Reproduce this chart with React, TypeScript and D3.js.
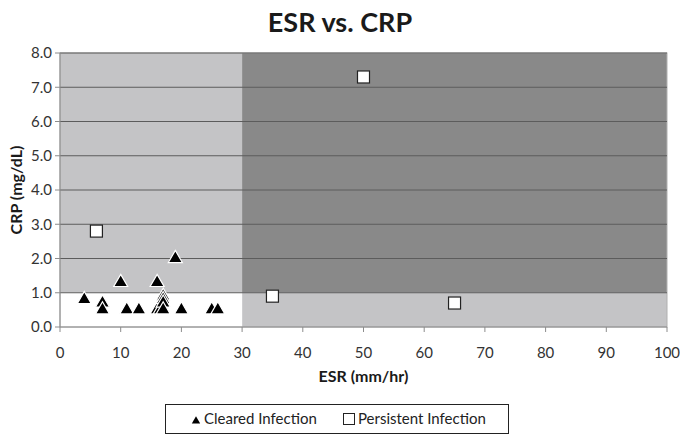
import React from "react";
import * as d3 from "d3";

const clearedESR = [4, 7, 7, 10, 11, 13, 16, 16, 16.5, 17, 17, 17, 17, 19, 20, 25, 26];
const clearedCRP = [0.8, 0.7, 0.5, 1.3, 0.5, 0.5, 1.3, 0.5, 0.5, 0.9, 0.8, 0.7, 0.5, 2.0, 0.5, 0.5, 0.5];
const persistentESR = [6, 35, 50, 65];
const persistentCRP = [2.8, 0.9, 7.3, 0.7];
const xTicks = [0, 10, 20, 30, 40, 50, 60, 70, 80, 90, 100];
const yTicks = [0, 1, 2, 3, 4, 5, 6, 7, 8];
const regions = [
  { x0: 0, x1: 30, y0: 1, y1: 8, fill: "#c4c4c6" },
  { x0: 30, x1: 100, y0: 1, y1: 8, fill: "#898989" },
  { x0: 30, x1: 100, y0: 0, y1: 1, fill: "#c4c4c6" },
  { x0: 0, x1: 30, y0: 0, y1: 1, fill: "#ffffff" },
];

const W = 680, H = 436;
const L = 60, R = 667, T = 53, B = 327;
const FONT = "Lato, 'Open Sans', sans-serif";

export default function App() {
  const x = d3.scaleLinear().domain([0, 100]).range([L, R]);
  const y = d3.scaleLinear().domain([0, 8]).range([B, T]);
  const tri = d3.symbol().type(d3.symbolTriangle).size(85)() as string;
  return (
    <svg width={W} height={H} style={{ position: "absolute", left: 0, top: 0, background: "#fff" }} fontFamily={FONT}>
      <text x={340} y={32} textAnchor="middle" fontSize={27} fontWeight="bold" fill="#1a1a1a">ESR vs. CRP</text>
      {regions.map((r, i) => (
        <rect key={i} x={x(r.x0)} y={y(r.y1)} width={x(r.x1) - x(r.x0)} height={y(r.y0) - y(r.y1)} fill={r.fill} />
      ))}
      <rect x={L} y={T} width={R - L} height={B - T} fill="none" stroke="#b0b0b0" strokeWidth={1} />
      {yTicks.slice(1).map((t) => (
        <line key={t} x1={L} x2={R} y1={y(t)} y2={y(t)} stroke="#5c5c5c" strokeWidth={1} />
      ))}
      <line x1={L} x2={L} y1={T} y2={B} stroke="#8c8c8c" />
      <line x1={L} x2={R} y1={B} y2={B} stroke="#8c8c8c" />
      {yTicks.map((t) => (
        <g key={t}>
          <line x1={L - 5} x2={L} y1={y(t)} y2={y(t)} stroke="#8c8c8c" />
          <text x={L - 8} y={y(t)} dy="0.35em" textAnchor="end" fontSize={15} fill="#333">{t.toFixed(1)}</text>
        </g>
      ))}
      {xTicks.map((t) => (
        <g key={t}>
          <line x1={x(t)} x2={x(t)} y1={B} y2={B + 5} stroke="#8c8c8c" />
          <text x={x(t)} y={353} dy="0.35em" textAnchor="middle" fontSize={15} fill="#333">{t}</text>
        </g>
      ))}
      <text x={x(50)} y={382} textAnchor="middle" fontSize={16} fontWeight="bold" fill="#1a1a1a">ESR (mm/hr)</text>
      <text transform={`translate(22,${(T + B) / 2}) rotate(-90)`} textAnchor="middle" fontSize={16} fontWeight="bold" fill="#1a1a1a">CRP (mg/dL)</text>
      {clearedESR.map((v, i) => (
        <path key={i} d={tri} transform={`translate(${x(v)},${y(clearedCRP[i])})`} fill="#000" stroke="#fff" strokeWidth={1.2} />
      ))}
      {persistentESR.map((v, i) => (
        <rect key={i} x={x(v) - 6} y={y(persistentCRP[i]) - 6} width={12} height={12} fill="#fff" stroke="#222" strokeWidth={1.2} />
      ))}
      <rect x={165.5} y={404.5} width={343} height={29} fill="#fff" stroke="#222" strokeWidth={1} />
      <path d={d3.symbol().type(d3.symbolTriangle).size(30)() as string} transform="translate(196,421)" fill="#000" />
      <text x={204} y={419} dy="0.35em" fontSize={15} fill="#222">Cleared Infection</text>
      <rect x={343.5} y={413.5} width={11} height={11} fill="#fff" stroke="#222" />
      <text x={358} y={419} dy="0.35em" fontSize={15} fill="#222">Persistent Infection</text>
    </svg>
  );
}
